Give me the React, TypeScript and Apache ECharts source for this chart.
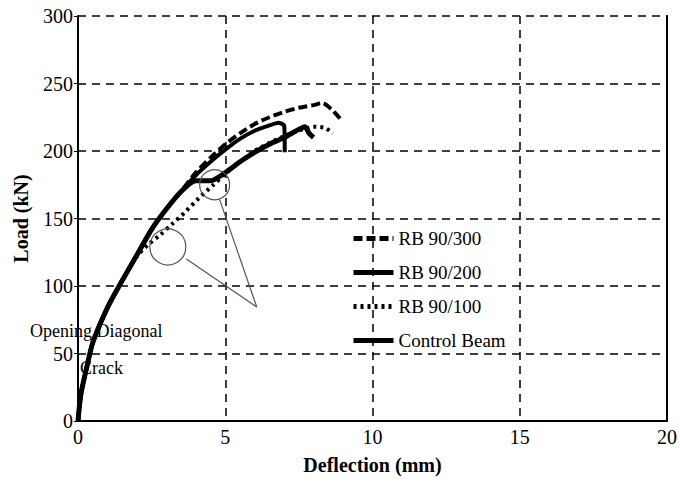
import React, { useEffect, useRef } from "react";
import * as echarts from "echarts";

const seriesNames = ["RB 90/300", "RB 90/200", "RB 90/100", "Control Beam"];

const rb300X = [0, 0.1, 0.3, 0.5, 1.0, 1.5, 2.0, 2.5, 3.0, 3.5, 4.0, 4.5, 5.0, 5.5, 6.0, 6.5, 7.0, 7.5, 8.0, 8.3, 8.6, 8.9];
const rb300Y = [0, 20, 40, 58, 84, 104, 123, 142, 157, 170, 184, 195, 205, 213, 220, 225, 229, 232, 234, 235.5, 231, 224];

const rb200X = [0, 0.1, 0.3, 0.5, 1.0, 1.5, 2.0, 2.5, 3.0, 3.5, 4.0, 4.5, 5.0, 5.5, 6.0, 6.5, 6.8, 7.0, 7.02];
const rb200Y = [0, 20, 40, 58, 84, 104, 123, 142, 157, 170, 182, 192, 201, 209, 215, 219, 221, 219, 199];

const rb100X = [0, 0.1, 0.3, 0.5, 1.0, 1.5, 2.0, 2.4, 2.8, 3.2, 3.6, 4.1, 4.6, 5.0, 5.5, 6.0, 6.5, 7.0, 7.5, 8.0, 8.4, 8.65];
const rb100Y = [0, 20, 40, 58, 84, 104, 122, 131, 138, 146, 154, 165, 175, 183, 192, 200, 206, 211, 215, 218, 217, 213];

const controlX = [0, 0.1, 0.3, 0.5, 1.0, 1.5, 2.0, 2.5, 3.0, 3.5, 4.0, 4.5, 5.0, 5.5, 6.0, 6.5, 7.0, 7.5, 7.7, 7.85, 8.0];
const controlY = [0, 20, 40, 58, 84, 104, 123, 142, 157, 170, 178, 178, 184, 192, 199, 205, 210, 216, 218, 213, 210];

const xTicks = [0, 5, 10, 15, 20];
const yTicks = [0, 50, 100, 150, 200, 250, 300];

const zip = (xs: number[], ys: number[]) => xs.map((x, i) => [x, ys[i]]);

const FONT = "Liberation Serif";

export default function App() {
  const ref = useRef<HTMLDivElement>(null);
  useEffect(() => {
    if (!ref.current) return;
    const chart = echarts.init(ref.current, undefined, { renderer: "svg" });
    const dashed = { type: [8, 6] as any, color: "#000", width: 1.5 };
    const option: any = {
      animation: false,
      backgroundColor: "#fff",
      grid: { left: 78, right: 12, top: 16, bottom: 63 },
      legend: {
        orient: "vertical",
        left: 346,
        top: 224,
        itemWidth: 40,
        itemHeight: 16,
        itemGap: 15,
        data: seriesNames,
        itemStyle: { color: "rgba(0,0,0,0)", opacity: 0, borderWidth: 0 },
        lineStyle: { width: 5 },
        textStyle: { fontFamily: FONT, fontSize: 19, color: "#000" },
      },
      xAxis: {
        type: "value",
        min: xTicks[0],
        max: xTicks[xTicks.length - 1],
        interval: 5,
        name: "Deflection (mm)",
        nameLocation: "middle",
        nameGap: 34,
        nameTextStyle: { fontFamily: FONT, fontSize: 20, fontWeight: "bold", color: "#000" },
        axisLine: { lineStyle: { color: "#000", width: 2 } },
        axisTick: { show: false },
        axisLabel: { fontFamily: FONT, fontSize: 20, color: "#000", margin: 6 },
        splitLine: { show: true, lineStyle: dashed },
      },
      yAxis: [
        {
          type: "value",
          min: yTicks[0],
          max: yTicks[yTicks.length - 1],
          interval: 50,
          name: "Load (kN)",
          nameLocation: "middle",
          nameGap: 47,
          nameTextStyle: { fontFamily: FONT, fontSize: 20, fontWeight: "bold", color: "#000" },
          axisLine: { show: true, lineStyle: { color: "#000", width: 2 } },
          axisTick: { show: true, length: 4, lineStyle: { color: "#000" } },
          axisLabel: { fontFamily: FONT, fontSize: 20, color: "#000", margin: 5 },
          splitLine: { show: true, lineStyle: dashed },
        },
        {
          type: "value",
          position: "right",
          min: 0,
          max: 300,
          interval: 50,
          axisLine: { show: true, lineStyle: { color: "#000", width: 2 } },
          axisTick: { show: false },
          axisLabel: { show: false },
          splitLine: { show: false },
        },
      ],
      series: [
        {
          name: seriesNames[0],
          type: "line",
          data: zip(rb300X, rb300Y),
          symbol: "none",
          smooth: 0.25,
          lineStyle: { color: "#000", width: 4, type: [9, 4] },
          itemStyle: { color: "#000" },
          z: 3,
        },
        {
          name: seriesNames[1],
          type: "line",
          data: zip(rb200X, rb200Y),
          symbol: "none",
          smooth: 0.15,
          lineStyle: { color: "#000", width: 4 },
          itemStyle: { color: "#000" },
          z: 4,
        },
        {
          name: seriesNames[2],
          type: "line",
          data: zip(rb100X, rb100Y),
          symbol: "none",
          smooth: 0.25,
          lineStyle: { color: "#000", width: 4, type: [3, 4] },
          itemStyle: { color: "#000" },
          z: 2,
        },
        {
          name: seriesNames[3],
          type: "line",
          data: zip(controlX, controlY),
          symbol: "none",
          smooth: 0.25,
          lineStyle: { color: "#000", width: 5 },
          itemStyle: { color: "#000" },
          z: 5,
        },
      ],
    };
    chart.setOption(option);

    const p = (x: number, y: number) => chart.convertToPixel({ xAxisIndex: 0, yAxisIndex: 0 }, [x, y]) as number[];
    const c1 = p(3.05, 129);
    const c2 = p(4.64, 175);
    const tip = p(6.07, 84.4);
    const l1 = p(3.68, 120);
    const l2 = p(4.81, 164);
    const t1 = p(-1.63, 67);
    const t2 = p(0.07, 39);
    const thin = { stroke: "#555", lineWidth: 1.2, fill: null };
    chart.setOption({
      graphic: [
        { type: "circle", shape: { cx: c1[0], cy: c1[1], r: 18 }, style: { ...thin, fill: "transparent" }, z: 10 },
        { type: "circle", shape: { cx: c2[0], cy: c2[1], r: 15 }, style: { ...thin, fill: "transparent" }, z: 10 },
        { type: "line", shape: { x1: l1[0], y1: l1[1], x2: tip[0], y2: tip[1] }, style: thin, z: 10 },
        { type: "line", shape: { x1: l2[0], y1: l2[1], x2: tip[0], y2: tip[1] }, style: thin, z: 10 },
        {
          type: "text",
          x: t1[0],
          y: t1[1],
          style: { text: "Opening Diagonal", fontFamily: FONT, fontSize: 18, fill: "#000", textVerticalAlign: "middle" },
          z: 10,
        },
        {
          type: "text",
          x: t2[0],
          y: t2[1],
          style: { text: "Crack", fontFamily: FONT, fontSize: 18, fill: "#000", textVerticalAlign: "middle" },
          z: 10,
        },
      ],
    });
    return () => chart.dispose();
  }, []);
  return <div ref={ref} style={{ width: 680, height: 484, position: "absolute", left: 0, top: 0 }} />;
}
